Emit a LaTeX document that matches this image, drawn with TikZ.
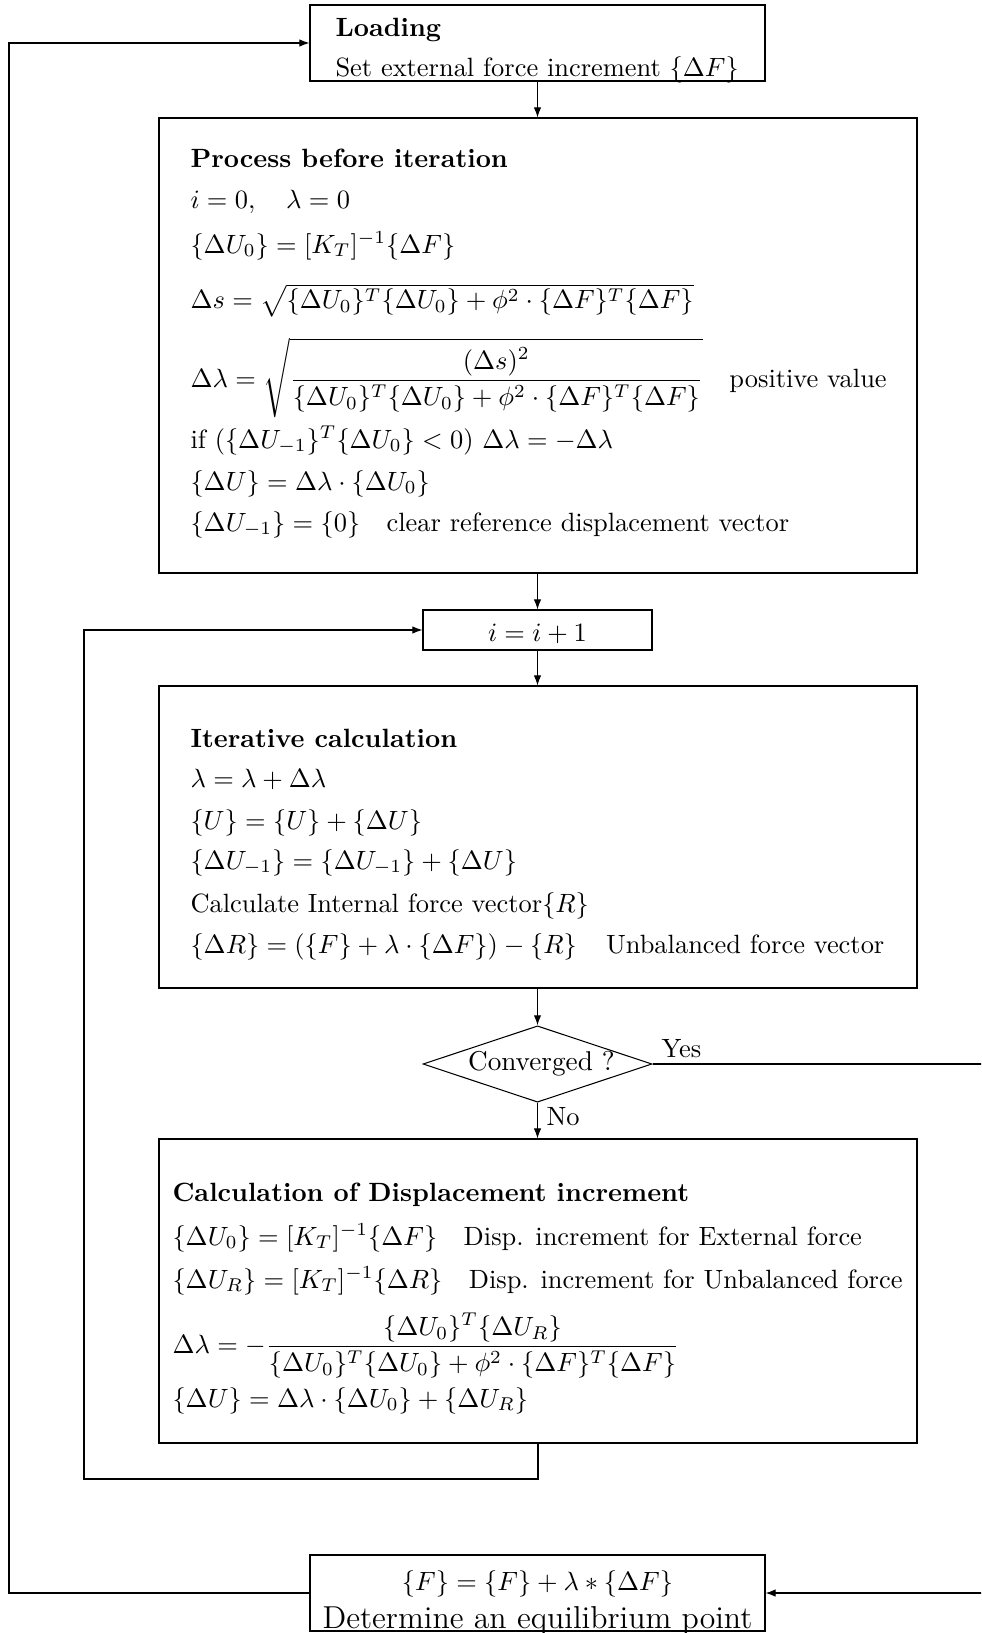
\documentclass[tikz,border=0pt]{standalone}
\usepackage{amsmath}
\usetikzlibrary{arrows.meta,shapes.geometric,fit}
\begin{document}
\begin{tikzpicture}[x=0.3785pt,y=-0.3785pt,
  box/.style={draw, inner sep=0pt, line width=0.4pt},
  txt/.style={anchor=base west, inner sep=0pt},
  ctxt/.style={anchor=base, inner sep=0pt},
  arr/.style={-{Latex[length=3.8pt,width=2.8pt]}, line width=0.4pt}]
\useasboundingbox (0,0) rectangle (981,1633);
\clip (0,0) rectangle (981,1633);
% boxes
\node[box, fit={(310,5) (765,81)}] (load) {};
\node[box, fit={(159,118) (917,573)}] (proc) {};
\node[box, fit={(423,610) (652,650)}] (inc) {};
\node[box, fit={(159,686) (917,988)}] (iter) {};
\node[draw, diamond, aspect=3, inner sep=0pt, minimum width=85.9pt, minimum height=28.8pt,
      font=\fontsize{10.3pt}{12pt}\selectfont] (conv) at (537.5,1064) {\hspace*{3pt}Converged ?};
\node[box, fit={(159,1139) (917,1443)}] (calc) {};
\node[box, fit={(310,1555) (765,1631)}] (bot) {};
% Loading
\node[txt] (t1) at (335,37) {\textbf{Loading}};
\node[txt] (t2) at (335,77) {Set external force increment $\{\Delta F\}$};
% Process before iteration
\node[txt] (p1) at (190,168) {\textbf{Process before iteration}};
\node[txt] (p2) at (190,209) {$i=0,\quad \lambda=0$};
\node[txt] (p3) at (190,253) {$\{\Delta U_0\}=[K_T]^{-1}\{\Delta F\}$};
\node[txt] (p4) at (190,309) {$\Delta s=\sqrt{\{\Delta U_0\}^T\{\Delta U_0\}+\phi^2\cdot\{\Delta F\}^T\{\Delta F\}}$};
\node[txt] (p5) at (190,387) {$\Delta\lambda=\sqrt{\dfrac{(\Delta s)^2}{\{\Delta U_0\}^T\{\Delta U_0\}+\phi^2\cdot\{\Delta F\}^T\{\Delta F\}}}$\quad positive value};
\node[txt] (p6) at (190,448) {if $(\{\Delta U_{-1}\}^T\{\Delta U_0\}<0)$ $\Delta\lambda=-\Delta\lambda$};
\node[txt] (p7) at (190,490) {$\{\Delta U\}=\Delta\lambda\cdot\{\Delta U_0\}$};
\node[txt] (p8) at (190,531) {$\{\Delta U_{-1}\}=\{0\}$\quad clear reference displacement vector};
% i = i+1
\node[ctxt] (it) at (537.5,641) {$i=i+1$};
% Iterative calculation
\node[txt] (q1) at (190,747) {\textbf{Iterative calculation}};
\node[txt] (q2) at (190,787) {$\lambda=\lambda+\Delta\lambda$};
\node[txt] (q3) at (190,829) {$\{U\}=\{U\}+\{\Delta U\}$};
\node[txt] (q4) at (190,869) {$\{\Delta U_{-1}\}=\{\Delta U_{-1}\}+\{\Delta U\}$};
\node[txt] (q5) at (190,912) {Calculate Internal force vector$\{R\}$};
\node[txt] (q6) at (190,953) {$\{\Delta R\}=(\{F\}+\lambda\cdot\{\Delta F\})-\{R\}$\quad\hspace{1pt}Unbalanced force vector};
% Calculation of displacement increment
\node[txt] (c1) at (172,1201) {\textbf{Calculation of Displacement increment}};
\node[txt] (c2) at (172,1245) {$\{\Delta U_0\}=[K_T]^{-1}\{\Delta F\}$\quad Disp. increment for External force};
\node[txt] (c3) at (172,1288) {$\{\Delta U_R\}=[K_T]^{-1}\{\Delta R\}$\quad Disp. increment for Unbalanced force};
\node[txt] (c4) at (172,1353) {$\Delta\lambda=-\dfrac{\{\Delta U_0\}^T\{\Delta U_R\}}{\{\Delta U_0\}^T\{\Delta U_0\}+\phi^2\cdot\{\Delta F\}^T\{\Delta F\}}$};
\node[txt] (c5) at (172,1407) {$\{\Delta U\}=\Delta\lambda\cdot\{\Delta U_0\}+\{\Delta U_R\}$};
% bottom box
\node[ctxt] (b1) at (537.5,1590) {$\{F\}=\{F\}+\lambda*\{\Delta F\}$};
\node[ctxt, font=\large] (b2) at (537.5,1628) {Determine an equilibrium point};
% labels
\node[txt] (yes) at (661,1057) {Yes};
\node[txt] (no) at (546,1125) {No};
% connectors
\coordinate (yr) at (1000,1064);
\coordinate (yd) at (1000,1593);
\coordinate (lb) at (538,1479);
\coordinate (ll) at (84,1479);
\coordinate (rl) at (9,1593);
\draw[arr] (load.south) -- (load.south |- proc.north);
\draw[arr] (inc.north |- proc.south) -- (inc.north);
\draw[arr] (inc.south) -- (inc.south |- iter.north);
\draw[arr] (conv.north |- iter.south) -- (conv.north);
\draw[arr] (conv.south) -- (conv.south |- calc.north);
\draw[arr] (conv.east) -- (yr) -- (yd) -- (bot.east);
\draw[arr] (calc.south) -- (lb) -- (ll) -- (ll |- inc.west) -- (inc.west);
\draw[arr] (bot.west) -- (rl) -- (rl |- load.west) -- (load.west);
\end{tikzpicture}
\end{document}
